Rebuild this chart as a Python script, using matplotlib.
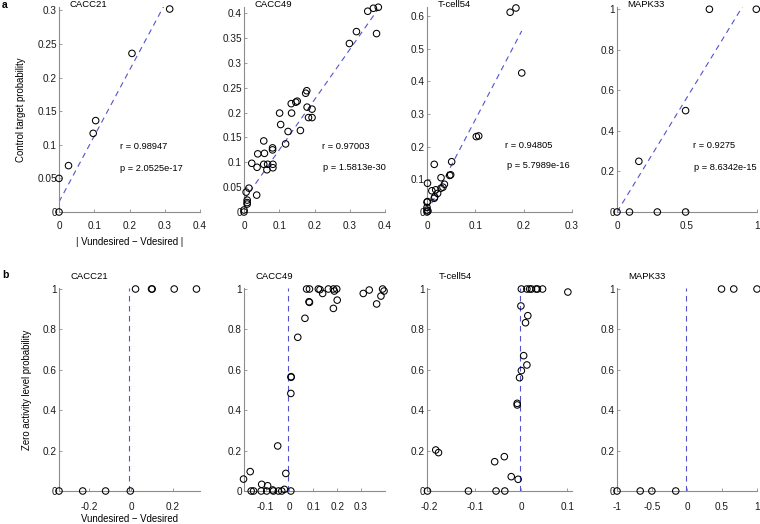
import numpy as np
import matplotlib
matplotlib.use("Agg")
import matplotlib.pyplot as plt
from matplotlib.ticker import FuncFormatter

plt.rcParams['font.family'] = ['Liberation Sans', 'DejaVu Sans']
plt.rcParams['axes.unicode_minus'] = False

# ---------------- data ----------------
names = ["CACC21", "CACC49", "T-cell54", "MAPK33"]

# row a: |V_undesired - V_desired| vs control target probability
a_x = [
    [0, 0, 0.027, 0.097, 0.104, 0.207, 0.314],
    [0, 0.0, 0.009, 0.009, 0.009, 0.006, 0.014, 0.036, 0.022, 0.037, 0.039, 0.056,
     0.058, 0.056, 0.067, 0.065, 0.082, 0.082, 0.081, 0.081, 0.101, 0.104, 0.118,
     0.125, 0.135, 0.134, 0.147, 0.151, 0.160, 0.175, 0.178, 0.179, 0.183, 0.193,
     0.193, 0.299, 0.319, 0.351, 0.367, 0.381, 0.376],
    [0.184, 0.172, 0.196, 0.102, 0.107, 0.051, 0.015, 0.047, 0.049, 0.029, 0.001,
     0.010, 0.018, 0.036, 0.033, 0.029, 0.022, 0.016, 0.015, 0.001, 0.0, 0.0, 0.0,
     0.0, 0.002],
    [0, 0.089, 0.288, 0.49, 0.156, 0.49, 0.66, 0.995],
]
a_y = [
    [0, 0.05, 0.069, 0.117, 0.136, 0.236, 0.302],
    [0, 0.004, 0.019, 0.024, 0.016, 0.040, 0.048, 0.034, 0.098, 0.090, 0.117, 0.143,
     0.118, 0.096, 0.096, 0.085, 0.096, 0.089, 0.129, 0.125, 0.199, 0.176, 0.137,
     0.162, 0.199, 0.218, 0.221, 0.223, 0.164, 0.239, 0.244, 0.211, 0.190, 0.190,
     0.207, 0.339, 0.363, 0.404, 0.410, 0.412, 0.359],
    [0.625, 0.612, 0.426, 0.231, 0.233, 0.154, 0.146, 0.112, 0.114, 0.105, 0.088,
     0.065, 0.068, 0.085, 0.076, 0.073, 0.057, 0.046, 0.042, 0.032, 0.030, 0.014,
     0.006, 0.0, 0.003],
    [0, 0, 0, 0, 0.25, 0.5, 1, 1],
]
fit_slope = [0.98, 1.01, 2.83, 1.13]
fit_intercept = [0.015, 0.024, 0.0, 0.0]
r_values = ["0.98947", "0.97003", "0.94805", "0.9275"]
p_values = ["2.0525e-17", "1.5813e-30", "5.7989e-16", "8.6342e-15"]

a_xlim = [(0, 0.4), (0, 0.4), (0, 0.3), (0, 1)]
a_ylim = [(0, 0.305), (0, 0.4125), (0, 0.628), (0, 1.011)]
a_xticks = [[0, 0.1, 0.2, 0.3, 0.4], [0, 0.1, 0.2, 0.3, 0.4], [0, 0.1, 0.2, 0.3], [0, 0.5, 1]]
a_yticks = [[0, 0.05, 0.1, 0.15, 0.2, 0.25, 0.3],
            [0, 0.05, 0.1, 0.15, 0.2, 0.25, 0.3, 0.35, 0.4],
            [0, 0.1, 0.2, 0.3, 0.4, 0.5, 0.6],
            [0, 0.2, 0.4, 0.6, 0.8, 1]]

# row b: V_undesired - V_desired vs zero activity level probability
b_x = [
    [-0.346, -0.232, -0.122, -0.003, 0.022, 0.099, 0.102, 0.208, 0.315],
    [-0.192, -0.164, -0.160, -0.150, -0.116, -0.118, -0.091, -0.095, -0.070, -0.067,
     -0.049, -0.046, -0.032, -0.021, -0.015, 0.006, 0.007, 0.007, 0.006, 0.035,
     0.065, 0.072, 0.084, 0.082, 0.084, 0.121, 0.128, 0.139, 0.163, 0.184, 0.188,
     0.198, 0.184, 0.200, 0.309, 0.334, 0.365, 0.383, 0.390, 0.396],
    [-0.204, -0.115, -0.055, -0.036, -0.186, -0.180, -0.058, -0.037, -0.022, -0.007,
     -0.009, -0.009, -0.004, 0.0, 0.012, 0.005, 0.009, 0.014, -0.001, 0.0, 0.012,
     0.018, 0.022, 0.032, 0.035, 0.046, 0.101],
    [-1, -0.668, -0.502, -0.161, 0.493, 0.668, 1.0],
]
b_y = [
    [0, 0, 0, 0, 1, 1, 1, 1, 1],
    [0.059, 0.096, 0, 0, 0.033, 0, 0.026, 0, 0.005, 0, 0.223, 0, 0, 0.008, 0.087,
     0, 0.566, 0.563, 0.483, 0.761, 0.855, 1.0, 1.0, 0.937, 0.934, 1.0, 0.997,
     0.978, 1.0, 1.0, 0.99, 1.0, 0.904, 0.945, 0.978, 0.995, 0.926, 0.965, 1.0, 0.99],
    [0, 0, 0, 0, 0.203, 0.190, 0.145, 0.170, 0.071, 0.058, 0.434, 0.426, 0.561,
     0.596, 0.624, 0.670, 0.833, 0.868, 0.916, 1.0, 1.0, 1.0, 1.0, 1.0, 1.0, 1.0,
     0.985],
    [0, 0, 0, 0, 1, 1, 1],
]
b_threshold = [-0.01, -0.004, -0.004, -0.02]
b_xlim = [(-0.346, 0.332), (-0.19, 0.40), (-0.205, 0.11), (-1, 1)]
b_xticks = [[-0.2, 0, 0.2], [-0.1, 0, 0.1, 0.2, 0.3], [-0.2, -0.1, 0, 0.1], [-1, -0.5, 0, 0.5, 1]]
b_yticks = [0, 0.2, 0.4, 0.6, 0.8, 1]

# ---------------- layout ----------------
W, H = 760, 524
fig = plt.figure(figsize=(W / 100, H / 100), dpi=100)

def rect(l, t, r, b):
    return [l / W, 1 - b / H, (r - l) / W, (b - t) / H]

lefts = [59, 244, 427, 617]
rights = [200, 385, 572, 757]
spine_col = '#8c8c8c'
dash_col = '#5353cc'
fs_tick = 7.2
fs_text = 6.7
fs_title = 6.8
fs_label = 6.9
r_pos = [(0.43, 0.318, 0.435, 0.213), (0.555, 0.318, 0.56, 0.216),
         (0.54, 0.324, 0.55, 0.226), (0.54, 0.325, 0.55, 0.216)]

fmt = FuncFormatter(lambda v, pos: ('%g' % v))

def style(ax, pad_x):
    for s in ['top', 'right']:
        ax.spines[s].set_visible(False)
    for s in ['left', 'bottom']:
        ax.spines[s].set_color(spine_col)
        ax.spines[s].set_linewidth(0.8)
    ax.tick_params(direction='in', length=2.5, width=0.6, color=spine_col,
                   labelsize=fs_tick, labelcolor='#1a1a1a')
    ax.tick_params(axis='x', pad=pad_x)
    ax.tick_params(axis='y', pad=1.5)
    ax.xaxis.set_major_formatter(fmt)
    ax.yaxis.set_major_formatter(fmt)
    ax.set_facecolor('none')

for i in range(4):
    ax = fig.add_axes(rect(lefts[i], 7, rights[i], 212))
    style(ax, 6.5)
    ax.set_xlim(*a_xlim[i])
    ax.set_ylim(*a_ylim[i])
    ax.set_xticks(a_xticks[i])
    ax.set_yticks(a_yticks[i])
    xs = np.array(a_x[i])
    xl = np.array([xs.min(), xs.max()])
    ax.plot(xl, fit_intercept[i] + fit_slope[i] * xl, ls=(0, (5, 4)), color=dash_col,
            lw=0.8, zorder=1)
    ax.scatter(a_x[i], a_y[i], s=22, facecolors='none', edgecolors='black',
               linewidths=0.75, zorder=3, clip_on=False)
    rx, ry, px, py = r_pos[i]
    ax.text(rx, ry, "r = " + r_values[i], transform=ax.transAxes, fontsize=fs_text,
            ha='left', va='center')
    ax.text(px, py, "p = " + p_values[i], transform=ax.transAxes, fontsize=fs_text,
            ha='left', va='center')
    ax.text(0.075, 1.01, names[i], transform=ax.transAxes, fontsize=fs_title,
            ha='left', va='center')
    if i == 0:
        ax.set_xlabel("| Vundesired \u2212 Vdesired |", fontsize=fs_label, labelpad=4)
        ax.set_ylabel("Control target probability", fontsize=fs_label, labelpad=8)

for i in range(4):
    ax = fig.add_axes(rect(lefts[i], 288, rights[i], 491))
    style(ax, 8)
    ax.set_xlim(*b_xlim[i])
    ax.set_ylim(0, 1.005)
    ax.set_xticks(b_xticks[i])
    ax.set_yticks(b_yticks)
    ax.axvline(b_threshold[i], ls=(0, (5, 4)), color=dash_col, lw=0.8, zorder=1)
    ax.scatter(b_x[i], b_y[i], s=22, facecolors='none', edgecolors='black',
               linewidths=0.75, zorder=3, clip_on=False)
    ax.text(0.08, 1.055, names[i], transform=ax.transAxes, fontsize=fs_title,
            ha='left', va='center')
    if i == 0:
        ax.set_xlabel("Vundesired \u2212 Vdesired", fontsize=fs_label, labelpad=1)
        ax.set_ylabel("Zero activity level probability", fontsize=fs_label, labelpad=8)

fig.text(2 / W, 1 - 5 / H, "a", fontsize=7.5, fontweight='bold', ha='left', va='center')
fig.text(2 / W, 1 - 275 / H, "b", fontsize=7.5, fontweight='bold', ha='left', va='center')

fig.savefig("out.png", dpi=100)
